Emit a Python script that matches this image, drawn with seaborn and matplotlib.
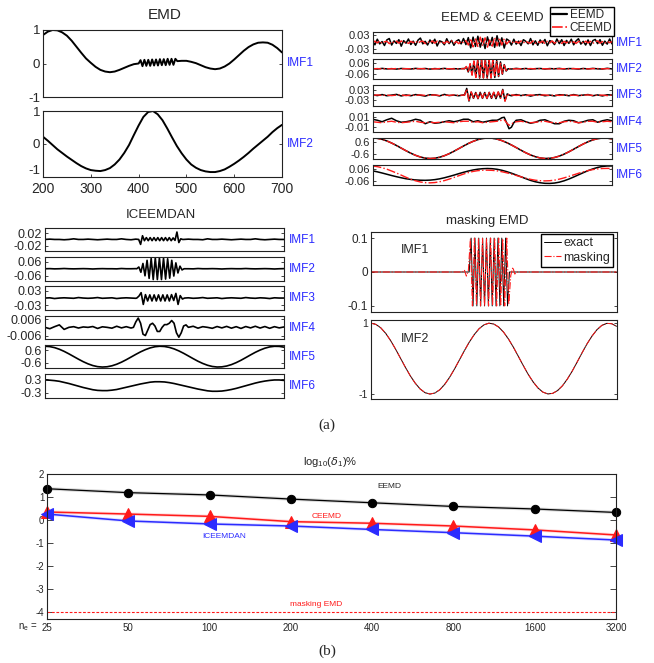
import numpy as np
import matplotlib
matplotlib.use("Agg")
import matplotlib.pyplot as plt
import seaborn as sns
from matplotlib.lines import Line2D

sns.set_style("ticks")
plt.rcParams["font.family"] = ["Liberation Sans", "DejaVu Sans"]
plt.rcParams["axes.unicode_minus"] = False

# ---------------------------------------------------------------- data
# Samples on a 10-step grid from 200 to 700 (51 values) unless noted.
# "burst" lists hold the fast oscillation, evenly spread over its span.

emd_imf1 = [0.85, 0.95, 1.0, 0.99, 0.93, 0.83, 0.68, 0.5, 0.32, 0.15,
            0.02, -0.1, -0.19, -0.24, -0.26, -0.24, -0.19, -0.13, -0.07, -0.02,
            0.0, 0.01, 0.02, 0.03, 0.04, 0.05, 0.06, 0.07, 0.07, 0.08,
            0.08, 0.05, 0.01, -0.05, -0.11, -0.15, -0.17, -0.15, -0.09, 0.0,
            0.12, 0.25, 0.38, 0.49, 0.57, 0.62, 0.63, 0.62, 0.56, 0.46,
            0.33]
emd_imf1_burst = [0.0, 0.10, -0.08, 0.11, -0.07, 0.11, -0.07, 0.12, -0.06, 0.12,
                  -0.06, 0.13, -0.05, 0.13, -0.05, 0.14, -0.04, 0.14, -0.04, 0.14, 0.07]
emd_imf2 = [0.22, 0.1, -0.03, -0.16, -0.27, -0.38, -0.48, -0.58, -0.67, -0.74,
            -0.79, -0.81, -0.82, -0.79, -0.73, -0.62, -0.47, -0.27, -0.03, 0.27,
            0.56, 0.82, 0.97, 1.0, 0.9, 0.72, 0.47, 0.2, -0.06, -0.28,
            -0.47, -0.62, -0.72, -0.79, -0.83, -0.85, -0.85, -0.82, -0.77, -0.69,
            -0.6, -0.5, -0.39, -0.27, -0.14, -0.02, 0.1, 0.22, 0.36, 0.48,
            0.58]

# slow oscillation shared by the lowest modes
slow_mode = [1.0, 0.966, 0.868, 0.712, 0.508, 0.269, 0.013, -0.244, -0.485, -0.692,
             -0.856, -0.961, -1.0, -0.972, -0.88, -0.729, -0.53, -0.295, -0.039, 0.219,
             0.463, 0.673, 0.842, 0.953, 1.0, 0.977, 0.891, 0.747, 0.553, 0.322,
             0.066, -0.193, -0.441, -0.654, -0.828, -0.945, -0.997, -0.981, -0.902, -0.765,
             -0.575, -0.348, -0.093, 0.167, 0.417, 0.634, 0.813, 0.937, 0.995, 0.986,
             0.913]

# EEMD / CEEMD, IMF1 on a 5-step grid (101 values)
eemd_imf1 = [0.006, -0.011, 0.013, -0.007, 0.003, -0.014, 0.010, 0.016, -0.012, 0.006,
             -0.005, 0.011, -0.017, 0.007, -0.004, 0.014, -0.010, 0.005, -0.013, 0.009,
             0.018, -0.007, 0.004, -0.012, 0.010, -0.005, 0.013, -0.016, 0.006, 0.002,
             -0.011, 0.015, -0.006, 0.008, -0.013, 0.005, 0.011, -0.007, 0.016, -0.010,
             0.020, -0.024, 0.022, -0.018, 0.026, -0.021, 0.016, -0.027, 0.023, -0.014,
             0.021, -0.022, 0.028, -0.016, 0.019, -0.025, 0.014, 0.007, -0.012, 0.013,
             -0.008, 0.005, -0.014, 0.011, 0.004, -0.007, 0.016, -0.011, 0.006, -0.013,
             0.010, -0.004, 0.012, -0.015, 0.007, 0.002, -0.010, 0.014, -0.006, 0.011,
             -0.014, 0.008, -0.005, 0.013, -0.011, 0.006, 0.015, -0.008, 0.004, -0.012,
             0.010, -0.014, 0.007, 0.012, -0.006, 0.011, -0.013, 0.005, -0.008, 0.014,
             -0.007]
ceemd_imf1 = [-0.004, 0.005, -0.003, 0.006, -0.005, 0.002, 0.004, -0.006, 0.003, -0.002,
              0.005, -0.004, 0.006, -0.003, 0.002, -0.005, 0.004, -0.002, 0.006, -0.004,
              0.003, 0.005, -0.006, 0.002, -0.003, 0.006, -0.004, 0.005, -0.002, 0.003,
              -0.005, 0.004, -0.002, 0.006, -0.004, 0.003, -0.006, 0.005, -0.003, 0.007,
              -0.012, 0.016, -0.020, 0.014, -0.018, 0.022, -0.015, 0.019, -0.021, 0.013,
              -0.017, 0.020, -0.016, 0.018, -0.012, 0.015, -0.008, 0.004, 0.006, -0.005,
              0.003, -0.004, 0.006, -0.003, 0.005, -0.002, -0.004, 0.006, -0.005, 0.003,
              -0.002, 0.005, -0.006, 0.004, -0.003, 0.006, -0.004, 0.002, 0.005, -0.005,
              0.004, -0.003, 0.006, -0.004, 0.002, -0.005, 0.003, 0.004, -0.006, 0.005,
              -0.003, 0.004, -0.005, 0.002, 0.006, -0.004, 0.003, -0.005, 0.004, -0.002,
              0.003]

eemd_imf2 = [0.002, -0.003, 0.004, -0.002, 0.001, -0.004, 0.003, 0.0, -0.003, 0.004,
             -0.001, 0.003, -0.004, 0.002, -0.002, 0.004, -0.003, 0.001, -0.002, 0.003,
             0.0, 0.0, 0.0, 0.0, 0.0, 0.0, 0.0, 0.0, 0.0, -0.003,
             0.004, -0.002, 0.003, -0.004, 0.001, 0.003, -0.003, 0.002, -0.001, 0.004,
             -0.003, 0.002, 0.001, -0.004, 0.003, -0.002, 0.004, -0.001, -0.003, 0.005,
             -0.002]
eemd_imf2_burst = [0.0, 0.02, -0.035, 0.05, -0.065, 0.08, -0.09, 0.095, -0.1, 0.1,
                   -0.1, 0.1, -0.1, 0.1, -0.1, 0.1, -0.095, 0.09, -0.085, 0.075,
                   -0.06, 0.045, -0.025, 0.0]
ceemd_imf2 = [-0.001, 0.002, -0.002, 0.001, -0.001, 0.002, -0.002, 0.001, 0.0, -0.002,
              0.002, -0.001, 0.001, -0.002, 0.002, -0.001, 0.001, -0.002, 0.001, -0.001,
              0.0, 0.0, 0.0, 0.0, 0.0, 0.0, 0.0, 0.0, 0.0, 0.002,
              -0.002, 0.001, -0.001, 0.002, -0.002, 0.001, 0.0, -0.002, 0.002, -0.001,
              0.001, -0.002, 0.002, -0.001, 0.001, -0.002, 0.001, 0.002, -0.001, 0.001,
              0.0]
ceemd_imf2_burst = [0.0, 0.025, -0.04, 0.055, -0.07, 0.085, -0.095, 0.1, -0.1, 0.1,
                    -0.1, 0.1, -0.1, 0.095, -0.1, 0.095, -0.09, 0.085, -0.08, 0.07,
                    -0.055, 0.04, -0.02, 0.0]

eemd_imf3 = [0.003, -0.002, 0.004, -0.003, 0.001, 0.005, -0.004, 0.002, -0.003, 0.004,
             0.0, -0.005, 0.003, 0.002, -0.004, 0.005, -0.002, 0.001, -0.003, 0.002,
             0.0, 0.0, 0.0, 0.0, 0.0, 0.0, 0.0, 0.0, 0.0, -0.003,
             0.004, -0.002, 0.003, -0.005, 0.002, 0.004, -0.003, 0.001, -0.004, 0.003,
             0.002, -0.003, 0.004, -0.002, 0.001, 0.004, -0.003, 0.002, -0.004, 0.003,
             0.001]
eemd_imf3_burst = [0.0, 0.04, -0.034, 0.018, -0.018, 0.016, -0.02, 0.017, -0.018, 0.016,
                   -0.019, 0.017, -0.018, 0.016, -0.02, 0.018, -0.016, 0.034, -0.032, 0.008, 0.0]
ceemd_imf3 = [-0.001, 0.002, -0.001, 0.001, -0.002, 0.001, 0.002, -0.002, 0.001, -0.001,
              0.002, -0.001, 0.0, 0.002, -0.002, 0.001, -0.001, 0.002, -0.001, 0.001,
              0.0, 0.0, 0.0, 0.0, 0.0, 0.0, 0.0, 0.0, 0.0, 0.002,
              -0.001, 0.001, -0.002, 0.002, -0.001, 0.0, 0.002, -0.002, 0.001, -0.001,
              0.002, -0.001, 0.001, -0.002, 0.001, 0.002, -0.001, 0.0, 0.001, -0.002,
              0.001]
ceemd_imf3_burst = [0.0, 0.036, -0.03, 0.02, -0.016, 0.018, -0.018, 0.018, -0.016, 0.018,
                    -0.018, 0.016, -0.018, 0.018, -0.017, 0.02, -0.018, 0.03, -0.035, 0.01, 0.0]

eemd_imf4 = [0.005, 0.003, 0.0, 0.004, 0.007, 0.002, -0.001, 0.0, 0.002, 0.005,
             0.003, -0.004, 0.0, -0.003, -0.002, 0.0, 0.002, 0.0, 0.002, 0.005,
             0.005, 0.0, 0.002, -0.001, 0.001, 0.003, 0.003, 0.0, 0.0, 0.0,
             0.0, 0.004, 0.0, -0.003, -0.001, 0.003, 0.004, 0.0, -0.004, -0.004,
             0.001, 0.003, 0.002, -0.002, 0.0, 0.003, 0.004, -0.001, 0.002, 0.004,
             0.002]
eemd_imf4_burst = [0.005, 0.008, 0.009, -0.002, -0.014, -0.011, -0.002, 0.003]
ceemd_imf4 = [0.0, -0.001, -0.002, 0.0, 0.001, -0.001, -0.002, -0.001, 0.0, 0.001,
              -0.001, -0.002, -0.001, -0.002, -0.001, 0.0, -0.001, -0.002, 0.0, 0.001,
              0.001, -0.001, 0.0, -0.002, -0.001, 0.0, 0.001, 0.0, 0.0, 0.0,
              0.0, 0.001, -0.001, -0.002, -0.001, 0.0, 0.001, -0.001, -0.002, -0.002,
              0.0, 0.001, 0.0, -0.002, -0.001, 0.001, 0.001, -0.001, 0.0, 0.001,
              0.0]
ceemd_imf4_burst = [0.002, 0.003, 0.004, -0.002, -0.007, -0.005, -0.001, 0.0]

eemd_imf6 = [0.040, 0.030, 0.018, 0.005, -0.008, -0.020, -0.031, -0.041, -0.048, -0.053,
             -0.056, -0.057, -0.055, -0.050, -0.042, -0.031, -0.018, -0.004, 0.011, 0.025,
             0.038, 0.049, 0.057, 0.062, 0.064, 0.062, 0.056, 0.046, 0.032, 0.016,
             -0.002, -0.021, -0.040, -0.058, -0.072, -0.082, -0.088, -0.089, -0.085, -0.076,
             -0.062, -0.044, -0.023, -0.001, 0.021, 0.042, 0.060, 0.075, 0.085, 0.090,
             0.090]
ceemd_imf6 = [0.090, 0.083, 0.072, 0.057, 0.038, 0.018, -0.004, -0.026, -0.046, -0.062,
              -0.074, -0.081, -0.083, -0.080, -0.072, -0.060, -0.045, -0.028, -0.010, 0.007,
              0.022, 0.034, 0.042, 0.046, 0.047, 0.045, 0.040, 0.031, 0.020, 0.007,
              -0.007, -0.021, -0.035, -0.047, -0.056, -0.061, -0.063, -0.061, -0.055, -0.045,
              -0.032, -0.017, -0.001, 0.015, 0.030, 0.043, 0.053, 0.060, 0.064, 0.065,
              0.064]

# ICEEMDAN
ice_imf1 = [0.0, 0.001, 0.0, 0.0, -0.001, 0.0, 0.002, 0.0, 0.0, 0.001,
            0.0, -0.001, 0.0, 0.001, 0.0, 0.0, 0.002, 0.0, -0.001, 0.001,
            0.0, 0.0, 0.0, 0.0, 0.0, 0.0, 0.0, 0.0, 0.0, 0.0,
            0.001, 0.0, 0.0, -0.001, 0.002, 0.0, 0.0, 0.001, 0.0, -0.001,
            0.0, 0.001, 0.0, 0.0, 0.002, 0.0, -0.001, 0.0, 0.001, 0.0,
            0.0]
ice_imf1_burst = [0.0, -0.016, 0.012, -0.004, 0.006, -0.004, 0.006, -0.004, 0.006, -0.004,
                  0.006, -0.004, 0.006, -0.004, 0.006, -0.004, 0.006, -0.004, 0.005, -0.003,
                  0.024, -0.01, 0.002, 0.0]
ice_imf2 = [0.0, 0.001, -0.001, 0.0, 0.002, 0.0, -0.001, 0.0, 0.001, 0.0,
            -0.002, 0.0, 0.001, 0.0, 0.0, -0.001, 0.002, 0.0, 0.0, 0.001,
            0.0, 0.0, 0.0, 0.0, 0.0, 0.0, 0.0, 0.0, 0.0, 0.0,
            0.0, -0.001, 0.002, 0.0, 0.0, 0.001, 0.0, -0.002, 0.0, 0.001,
            0.0, 0.0, 0.002, 0.0, -0.001, 0.0, 0.001, 0.0, -0.002, 0.0,
            0.001]
ice_imf2_burst = [0.0, 0.015, -0.03, 0.045, -0.06, 0.072, -0.082, 0.088, -0.092, 0.092,
                  -0.092, 0.092, -0.092, 0.09, -0.088, 0.085, -0.08, 0.072, -0.062, 0.05,
                  -0.036, 0.022, -0.01, 0.0]
ice_imf3 = [0.0, 0.001, -0.002, 0.0, 0.001, 0.0, -0.001, 0.002, 0.0, -0.001,
            0.0, 0.002, -0.001, 0.0, 0.001, -0.002, 0.0, 0.001, 0.0, -0.001,
            0.0, 0.0, 0.0, 0.0, 0.0, 0.0, 0.0, 0.0, 0.0, 0.0,
            0.001, -0.001, 0.0, 0.002, -0.001, 0.0, 0.001, -0.002, 0.0, 0.001,
            0.0, -0.001, 0.002, 0.0, -0.001, 0.001, 0.0, -0.002, 0.001, 0.0,
            0.0]
ice_imf3_burst = [0.0, 0.008, 0.022, -0.026, 0.014, -0.012, 0.013, -0.012, 0.013, -0.012,
                  0.013, -0.012, 0.013, -0.012, 0.013, -0.012, 0.014, -0.01, 0.019, -0.026,
                  0.01, -0.004, 0.0]
ice_imf4 = [0.0, -0.001, 0.0005, 0.0018, -0.0015, 0.0, 0.0005, -0.0005, 0.0003, 0.0,
            0.0006, -0.0008, 0.0004, 0.0, -0.0006, 0.0008, -0.0004, 0.0005, -0.0005, 0.0,
            0.0, 0.0, 0.0, 0.0, 0.0, 0.0, 0.0, 0.0, 0.0, 0.0,
            0.0, 0.0008, -0.0006, 0.0005, 0.0, -0.0007, 0.0006, -0.0004, 0.0007, -0.0006,
            0.0005, -0.0008, 0.0006, -0.0004, 0.0008, -0.0005, 0.0006, -0.0007, 0.0005, -0.0004,
            0.0003]
ice_imf4_burst = [0.0, 0.004, 0.0068, 0.003, -0.005, -0.006, -0.002, 0.002, 0.003, 0.001,
                  -0.003, -0.003, 0.0, 0.002, 0.002, 0.003, 0.005, 0.003, -0.004, -0.0072,
                  -0.004, 0.001, 0.0018, 0.0]
ice_imf6 = [0.27, 0.26, 0.24, 0.21, 0.16, 0.11, 0.05, -0.01, -0.07, -0.12,
            -0.17, -0.20, -0.21, -0.21, -0.19, -0.16, -0.11, -0.06, -0.01, 0.04,
            0.09, 0.13, 0.17, 0.19, 0.19, 0.18, 0.15, 0.11, 0.06, 0.01,
            -0.04, -0.09, -0.14, -0.18, -0.22, -0.24, -0.24, -0.23, -0.20, -0.16,
            -0.11, -0.05, 0.01, 0.07, 0.13, 0.18, 0.22, 0.25, 0.27, 0.27,
            0.25]

# masking EMD (flat ends, burst in between)
exact_imf1 = [0.0, 0.0]
exact_imf1_burst = [0.0, 0.1, -0.1, 0.1, -0.1, 0.1, -0.1, 0.1, -0.1, 0.1, -0.1,
                    0.1, -0.1, 0.1, -0.1, 0.1, -0.1, 0.1, -0.1, 0.1, -0.1, 0.0]
masking_imf1 = [0.0, 0.0]
masking_imf1_burst = [0.0, 0.006, -0.012, 0.004, 0.098, -0.1, 0.1, -0.098, 0.1, -0.1,
                      0.099, -0.1, 0.1, -0.1, 0.1, -0.099, 0.1, -0.1, 0.1, -0.1,
                      0.098, -0.1, 0.1, -0.095, -0.01, 0.014, -0.006, 0.0]

# error curves
ne = [25, 50, 100, 200, 400, 800, 1600, 3200]
eemd_err = [1.36, 1.19, 1.09, 0.91, 0.75, 0.59, 0.48, 0.33]
ceemd_err = [0.35, 0.26, 0.16, -0.07, -0.14, -0.26, -0.43, -0.65]
iceemdan_err = [0.26, -0.04, -0.17, -0.26, -0.41, -0.55, -0.70, -0.87]
masking_err = -4.0

# ---------------------------------------------------------------- helpers
W, H = 654, 663
fig = plt.figure(figsize=(W / 100, H / 100), dpi=100)
BLUE = "#2b2bff"
RED = "#ff1a1a"


def panel(l, t, r, b, xlim=(200, 700)):
    ax = fig.add_axes([l / W, 1 - b / H, (r - l) / W, (b - t) / H])
    for s in ax.spines.values():
        s.set_color("#222222")
        s.set_linewidth(0.8)
    ax.tick_params(direction="in", length=2.5, width=0.6, left=True, right=True,
                   top=False, bottom=False, labelsize=9, pad=2)
    ax.set_xlim(*xlim)
    ax.set_xticks([])
    return ax


def assemble(base, step=10, burst=None, span=None):
    t = 200 + step * np.arange(len(base), dtype=float)
    y = np.asarray(base, dtype=float)
    if burst is None:
        return t, y
    keep = (t < span[0]) | (t > span[1])
    tb = np.linspace(span[0], span[1], len(burst))
    tt = np.concatenate([t[keep], tb])
    yy = np.concatenate([y[keep], np.asarray(burst, dtype=float)])
    order = np.argsort(tt)
    return tt[order], yy[order]


def trace(ax, base, step=10, burst=None, span=None, **kw):
    t, y = assemble(base, step, burst, span)
    sns.lineplot(x=t, y=y, ax=ax, estimator=None, sort=False, **kw)


def yaxis(ax, lim, ticks, labels, size=9):
    ax.set_ylim(-lim, lim) if np.isscalar(lim) else ax.set_ylim(*lim)
    ax.set_yticks(ticks)
    ax.set_yticklabels(labels, fontsize=size)
    ax.set_ylabel("")


def fig_text(x, y, s, **kw):
    fig.text(x / W, 1 - y / H, s, **kw)


# ---------------------------------------------------------------- EMD
fig_text(165, 15, "EMD", fontsize=11, ha="center", va="center")
ax = panel(43, 30, 282, 97)
trace(ax, emd_imf1, burst=emd_imf1_burst, span=(400, 481), color="black", lw=1.4)
yaxis(ax, (-1, 1), [-1, 0, 1], ["-1", "0", "1"], size=9.5)
fig_text(287, 63, "IMF1", color=BLUE, fontsize=8.5, va="center")

ax = panel(43, 111, 282, 177)
trace(ax, emd_imf2, color="black", lw=1.4)
yaxis(ax, (-1, 1), [-1, 0, 1], ["-1", "0", "1"], size=9.5)
ax.get_yticklabels()[0].set_va("bottom")
ax.set_xticks([200, 300, 400, 500, 600, 700])
ax.tick_params(axis="x", bottom=True, labelsize=10, pad=3.5)
fig_text(287, 144, "IMF2", color=BLUE, fontsize=8.5, va="center")

# ---------------------------------------------------------------- EEMD & CEEMD
fig_text(492, 18, "EEMD & CEEMD", fontsize=9.5, ha="center", va="center")
eemd_rows = [
    (eemd_imf1, None, None, ceemd_imf1, None, 5, 0.044, 0.03, "0.03"),
    (eemd_imf2, eemd_imf2_burst, (392, 483), ceemd_imf2, ceemd_imf2_burst, 10, 0.112, 0.06, "0.06"),
    (eemd_imf3, eemd_imf3_burst, (392, 486), ceemd_imf3, ceemd_imf3_burst, 10, 0.06, 0.03, "0.03"),
    (eemd_imf4, eemd_imf4_burst, (465, 500), ceemd_imf4, ceemd_imf4_burst, 10, 0.0205, 0.01, "0.01"),
    (slow_mode, None, None, slow_mode, None, 10, 1.0, 0.6, "0.6"),
    (eemd_imf6, None, None, ceemd_imf6, None, 10, 0.105, 0.06, "0.06"),
]
for i, (bk, bkb, sp, rd, rdb, step, lim, tk, tl) in enumerate(eemd_rows):
    top = 32 + 26.5 * i
    ax = panel(372.5, top, 612, top + 20.5)
    trace(ax, bk, step=step, burst=bkb, span=sp, color="black", lw=1.1)
    trace(ax, rd, step=step, burst=rdb, span=sp, color=RED, lw=1.0, linestyle="-.")
    yaxis(ax, lim, [-tk, tk], ["-" + tl, tl], size=8)
    fig_text(615.5, top + 10.5, f"IMF{i + 1}", color=BLUE, fontsize=8.5, va="center")

leg_handles = [Line2D([], [], color="black", lw=1.6),
               Line2D([], [], color=RED, lw=1.2, linestyle="-.")]
fig.legend(leg_handles, ["EEMD", "CEEMD"], loc="upper right",
           bbox_to_anchor=(614 / W, 1 - 7.5 / H), fontsize=8.5, frameon=True,
           fancybox=False, edgecolor="black", framealpha=1, borderpad=0.15,
           handlelength=1.3, handletextpad=0.2, labelspacing=0.1, borderaxespad=0)

# ---------------------------------------------------------------- ICEEMDAN
fig_text(161, 215, "ICEEMDAN", fontsize=9.5, ha="center", va="center")
ice_rows = [
    (ice_imf1, ice_imf1_burst, (396, 488), 0.038, 0.02, "0.02"),
    (ice_imf2, ice_imf2_burst, (392, 491), 0.1, 0.06, "0.06"),
    (ice_imf3, ice_imf3_burst, (392, 492), 0.048, 0.03, "0.03"),
    (ice_imf4, ice_imf4_burst, (385, 500), 0.0086, 0.006, "0.006"),
    (slow_mode, None, None, 1.13, 0.6, "0.6"),
    (ice_imf6, None, None, 0.53, 0.3, "0.3"),
]
for i, (vals, bvals, sp, lim, tk, tl) in enumerate(ice_rows):
    top = 227.7 + 29.3 * i
    ax = panel(45, top, 284, top + 23.5)
    trace(ax, vals, burst=bvals, span=sp, color="black", lw=1.2)
    yaxis(ax, lim, [-tk, tk], ["-" + tl, tl])
    fig_text(288.5, top + 12, f"IMF{i + 1}", color=BLUE, fontsize=8.5, va="center")

# ---------------------------------------------------------------- masking EMD
fig_text(487, 221, "masking EMD", fontsize=9.5, ha="center", va="center")
ax = panel(371, 232.3, 616.5, 311.7)
trace(ax, exact_imf1, step=500, burst=exact_imf1_burst, span=(400, 482),
      color="black", lw=0.7, label="exact")
trace(ax, masking_imf1, step=500, burst=masking_imf1_burst, span=(386, 497),
      color=RED, lw=0.8, linestyle="-.", label="masking")
yaxis(ax, 0.117, [-0.1, 0, 0.1], ["-0.1", "0", "0.1"], size=8.5)
ax.text(0.12, 0.78, "IMF1", transform=ax.transAxes, fontsize=9, va="center")
ax.legend(loc="upper right", bbox_to_anchor=(0.986, 0.978), fontsize=9,
          frameon=True, fancybox=False, edgecolor="black", framealpha=1,
          borderpad=0.25, handlelength=1.3, handletextpad=0.2, labelspacing=0.2,
          borderaxespad=0)

ax = panel(371, 320, 616.5, 399)
trace(ax, slow_mode, color="black", lw=0.7)
trace(ax, slow_mode, color=RED, lw=0.7, linestyle="-.")
yaxis(ax, (-1.14, 1.09), [-1, 1], ["-1", "1"], size=7.5)
ax.text(0.12, 0.76, "IMF2", transform=ax.transAxes, fontsize=9, va="center")

fig_text(327, 425, "(a)", fontsize=11, ha="center", va="center", family="Liberation Serif")

# ---------------------------------------------------------------- error curves
ax = panel(47, 474, 616, 619, xlim=(0, 7))
xpos = np.log2(np.asarray(ne) / ne[0])
for vals, col, mk, ms, lw in [(eemd_err, "black", "o", 6, 0.9),
                              (ceemd_err, RED, "^", 8, 1.1),
                              (iceemdan_err, BLUE, "<", 8, 1.1)]:
    sns.lineplot(x=xpos, y=vals, ax=ax, color=col, lw=2.4, alpha=0.15,
                 estimator=None, sort=False)
    sns.lineplot(x=xpos, y=vals, ax=ax, color=col, lw=lw, marker=mk, markersize=ms,
                 markeredgecolor=col, estimator=None, sort=False, clip_on=False)
ax.axhline(masking_err, color=RED, lw=0.8, linestyle=(0, (2.5, 1.5)))
ax.set_ylim(-4.3, 2)
ax.set_yticks(range(-4, 3))
ax.set_yticklabels([str(v) for v in range(-4, 3)], fontsize=7)
ax.set_xticks(xpos)
ax.set_xticklabels([str(v) for v in ne], fontsize=7)
ax.tick_params(axis="x", bottom=False, pad=3)
ax.tick_params(axis="y", length=4)
fig_text(38, 627.5, r"n$_\mathregular{e}$ =", fontsize=7, ha="right", va="center")
fig_text(330, 462, r"log$_\mathregular{10}$($\delta_\mathregular{1}$)%", fontsize=8,
         ha="center", va="center")
fig_text(389, 487, "EEMD", fontsize=6, ha="center", va="center")
fig_text(327, 516, "CEEMD", fontsize=6, ha="center", va="center", color=RED)
fig_text(224, 537, "ICEEMDAN", fontsize=6, ha="center", va="center", color=BLUE)
fig_text(316, 604, "masking EMD", fontsize=6, ha="center", va="center", color=RED)

fig_text(327, 651, "(b)", fontsize=11, ha="center", va="center", family="Liberation Serif")

fig.savefig("out.png", dpi=100)
